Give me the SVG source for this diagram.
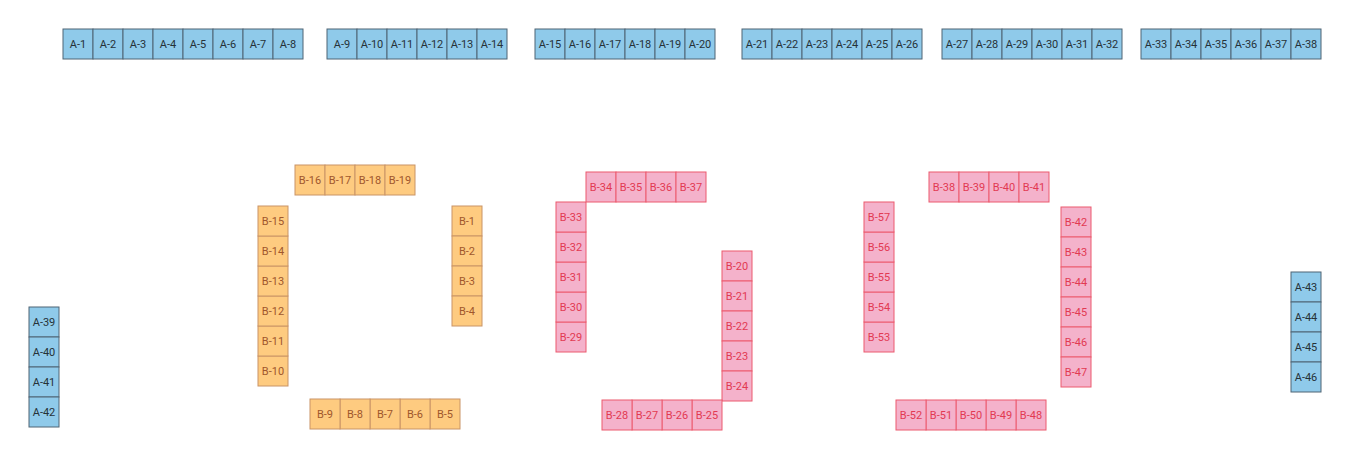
<svg xmlns="http://www.w3.org/2000/svg" width="1350" height="459" viewBox="0 0 1350 459">
<style>
rect{stroke-width:1}
text{font-family:Roboto,"Liberation Sans",sans-serif;font-size:11px;text-anchor:middle;dominant-baseline:central}
.a rect{fill:#8fcaea;stroke:#4f6475}
.a text{fill:#263238}
.o rect{fill:#fecb80;stroke:#c99466}
.o text{fill:#a0572c}
.p rect{fill:#f4b2cb;stroke:#ec5a6e}
.p text{fill:#e23a52}
</style>
<rect width="1350" height="459" fill="#ffffff" stroke="none"/>
<g id="A-1" class="a"><rect x="63" y="29" width="30" height="30"/><text x="78" y="44">A-1</text></g>
<g id="A-2" class="a"><rect x="93" y="29" width="30" height="30"/><text x="108" y="44">A-2</text></g>
<g id="A-3" class="a"><rect x="123" y="29" width="30" height="30"/><text x="138" y="44">A-3</text></g>
<g id="A-4" class="a"><rect x="153" y="29" width="30" height="30"/><text x="168" y="44">A-4</text></g>
<g id="A-5" class="a"><rect x="183" y="29" width="30" height="30"/><text x="198" y="44">A-5</text></g>
<g id="A-6" class="a"><rect x="213" y="29" width="30" height="30"/><text x="228" y="44">A-6</text></g>
<g id="A-7" class="a"><rect x="243" y="29" width="30" height="30"/><text x="258" y="44">A-7</text></g>
<g id="A-8" class="a"><rect x="273" y="29" width="30" height="30"/><text x="288" y="44">A-8</text></g>
<g id="A-9" class="a"><rect x="327" y="29" width="30" height="30"/><text x="342" y="44">A-9</text></g>
<g id="A-10" class="a"><rect x="357" y="29" width="30" height="30"/><text x="372" y="44">A-10</text></g>
<g id="A-11" class="a"><rect x="387" y="29" width="30" height="30"/><text x="402" y="44">A-11</text></g>
<g id="A-12" class="a"><rect x="417" y="29" width="30" height="30"/><text x="432" y="44">A-12</text></g>
<g id="A-13" class="a"><rect x="447" y="29" width="30" height="30"/><text x="462" y="44">A-13</text></g>
<g id="A-14" class="a"><rect x="477" y="29" width="30" height="30"/><text x="492" y="44">A-14</text></g>
<g id="A-15" class="a"><rect x="535" y="29" width="30" height="30"/><text x="550" y="44">A-15</text></g>
<g id="A-16" class="a"><rect x="565" y="29" width="30" height="30"/><text x="580" y="44">A-16</text></g>
<g id="A-17" class="a"><rect x="595" y="29" width="30" height="30"/><text x="610" y="44">A-17</text></g>
<g id="A-18" class="a"><rect x="625" y="29" width="30" height="30"/><text x="640" y="44">A-18</text></g>
<g id="A-19" class="a"><rect x="655" y="29" width="30" height="30"/><text x="670" y="44">A-19</text></g>
<g id="A-20" class="a"><rect x="685" y="29" width="30" height="30"/><text x="700" y="44">A-20</text></g>
<g id="A-21" class="a"><rect x="742" y="29" width="30" height="30"/><text x="757" y="44">A-21</text></g>
<g id="A-22" class="a"><rect x="772" y="29" width="30" height="30"/><text x="787" y="44">A-22</text></g>
<g id="A-23" class="a"><rect x="802" y="29" width="30" height="30"/><text x="817" y="44">A-23</text></g>
<g id="A-24" class="a"><rect x="832" y="29" width="30" height="30"/><text x="847" y="44">A-24</text></g>
<g id="A-25" class="a"><rect x="862" y="29" width="30" height="30"/><text x="877" y="44">A-25</text></g>
<g id="A-26" class="a"><rect x="892" y="29" width="30" height="30"/><text x="907" y="44">A-26</text></g>
<g id="A-27" class="a"><rect x="942" y="29" width="30" height="30"/><text x="957" y="44">A-27</text></g>
<g id="A-28" class="a"><rect x="972" y="29" width="30" height="30"/><text x="987" y="44">A-28</text></g>
<g id="A-29" class="a"><rect x="1002" y="29" width="30" height="30"/><text x="1017" y="44">A-29</text></g>
<g id="A-30" class="a"><rect x="1032" y="29" width="30" height="30"/><text x="1047" y="44">A-30</text></g>
<g id="A-31" class="a"><rect x="1062" y="29" width="30" height="30"/><text x="1077" y="44">A-31</text></g>
<g id="A-32" class="a"><rect x="1092" y="29" width="30" height="30"/><text x="1107" y="44">A-32</text></g>
<g id="A-33" class="a"><rect x="1141" y="29" width="30" height="30"/><text x="1156" y="44">A-33</text></g>
<g id="A-34" class="a"><rect x="1171" y="29" width="30" height="30"/><text x="1186" y="44">A-34</text></g>
<g id="A-35" class="a"><rect x="1201" y="29" width="30" height="30"/><text x="1216" y="44">A-35</text></g>
<g id="A-36" class="a"><rect x="1231" y="29" width="30" height="30"/><text x="1246" y="44">A-36</text></g>
<g id="A-37" class="a"><rect x="1261" y="29" width="30" height="30"/><text x="1276" y="44">A-37</text></g>
<g id="A-38" class="a"><rect x="1291" y="29" width="30" height="30"/><text x="1306" y="44">A-38</text></g>
<g id="A-39" class="a"><rect x="29" y="307" width="30" height="30"/><text x="44" y="322">A-39</text></g>
<g id="A-40" class="a"><rect x="29" y="337" width="30" height="30"/><text x="44" y="352">A-40</text></g>
<g id="A-41" class="a"><rect x="29" y="367" width="30" height="30"/><text x="44" y="382">A-41</text></g>
<g id="A-42" class="a"><rect x="29" y="397" width="30" height="30"/><text x="44" y="412">A-42</text></g>
<g id="A-43" class="a"><rect x="1291" y="272" width="30" height="30"/><text x="1306" y="287">A-43</text></g>
<g id="A-44" class="a"><rect x="1291" y="302" width="30" height="30"/><text x="1306" y="317">A-44</text></g>
<g id="A-45" class="a"><rect x="1291" y="332" width="30" height="30"/><text x="1306" y="347">A-45</text></g>
<g id="A-46" class="a"><rect x="1291" y="362" width="30" height="30"/><text x="1306" y="377">A-46</text></g>
<g id="B-1" class="o"><rect x="452" y="206" width="30" height="30"/><text x="467" y="221">B-1</text></g>
<g id="B-2" class="o"><rect x="452" y="236" width="30" height="30"/><text x="467" y="251">B-2</text></g>
<g id="B-3" class="o"><rect x="452" y="266" width="30" height="30"/><text x="467" y="281">B-3</text></g>
<g id="B-4" class="o"><rect x="452" y="296" width="30" height="30"/><text x="467" y="311">B-4</text></g>
<g id="B-5" class="o"><rect x="430" y="399" width="30" height="30"/><text x="445" y="414">B-5</text></g>
<g id="B-6" class="o"><rect x="400" y="399" width="30" height="30"/><text x="415" y="414">B-6</text></g>
<g id="B-7" class="o"><rect x="370" y="399" width="30" height="30"/><text x="385" y="414">B-7</text></g>
<g id="B-8" class="o"><rect x="340" y="399" width="30" height="30"/><text x="355" y="414">B-8</text></g>
<g id="B-9" class="o"><rect x="310" y="399" width="30" height="30"/><text x="325" y="414">B-9</text></g>
<g id="B-10" class="o"><rect x="258" y="356" width="30" height="30"/><text x="273" y="371">B-10</text></g>
<g id="B-11" class="o"><rect x="258" y="326" width="30" height="30"/><text x="273" y="341">B-11</text></g>
<g id="B-12" class="o"><rect x="258" y="296" width="30" height="30"/><text x="273" y="311">B-12</text></g>
<g id="B-13" class="o"><rect x="258" y="266" width="30" height="30"/><text x="273" y="281">B-13</text></g>
<g id="B-14" class="o"><rect x="258" y="236" width="30" height="30"/><text x="273" y="251">B-14</text></g>
<g id="B-15" class="o"><rect x="258" y="206" width="30" height="30"/><text x="273" y="221">B-15</text></g>
<g id="B-16" class="o"><rect x="295" y="165" width="30" height="30"/><text x="310" y="180">B-16</text></g>
<g id="B-17" class="o"><rect x="325" y="165" width="30" height="30"/><text x="340" y="180">B-17</text></g>
<g id="B-18" class="o"><rect x="355" y="165" width="30" height="30"/><text x="370" y="180">B-18</text></g>
<g id="B-19" class="o"><rect x="385" y="165" width="30" height="30"/><text x="400" y="180">B-19</text></g>
<g id="B-20" class="p"><rect x="722" y="251" width="30" height="30"/><text x="737" y="266">B-20</text></g>
<g id="B-21" class="p"><rect x="722" y="281" width="30" height="30"/><text x="737" y="296">B-21</text></g>
<g id="B-22" class="p"><rect x="722" y="311" width="30" height="30"/><text x="737" y="326">B-22</text></g>
<g id="B-23" class="p"><rect x="722" y="341" width="30" height="30"/><text x="737" y="356">B-23</text></g>
<g id="B-24" class="p"><rect x="722" y="371" width="30" height="30"/><text x="737" y="386">B-24</text></g>
<g id="B-25" class="p"><rect x="692" y="400" width="30" height="30"/><text x="707" y="415">B-25</text></g>
<g id="B-26" class="p"><rect x="662" y="400" width="30" height="30"/><text x="677" y="415">B-26</text></g>
<g id="B-27" class="p"><rect x="632" y="400" width="30" height="30"/><text x="647" y="415">B-27</text></g>
<g id="B-28" class="p"><rect x="602" y="400" width="30" height="30"/><text x="617" y="415">B-28</text></g>
<g id="B-29" class="p"><rect x="556" y="322" width="30" height="30"/><text x="571" y="337">B-29</text></g>
<g id="B-30" class="p"><rect x="556" y="292" width="30" height="30"/><text x="571" y="307">B-30</text></g>
<g id="B-31" class="p"><rect x="556" y="262" width="30" height="30"/><text x="571" y="277">B-31</text></g>
<g id="B-32" class="p"><rect x="556" y="232" width="30" height="30"/><text x="571" y="247">B-32</text></g>
<g id="B-33" class="p"><rect x="556" y="202" width="30" height="30"/><text x="571" y="217">B-33</text></g>
<g id="B-34" class="p"><rect x="586" y="172" width="30" height="30"/><text x="601" y="187">B-34</text></g>
<g id="B-35" class="p"><rect x="616" y="172" width="30" height="30"/><text x="631" y="187">B-35</text></g>
<g id="B-36" class="p"><rect x="646" y="172" width="30" height="30"/><text x="661" y="187">B-36</text></g>
<g id="B-37" class="p"><rect x="676" y="172" width="30" height="30"/><text x="691" y="187">B-37</text></g>
<g id="B-38" class="p"><rect x="929" y="172" width="30" height="30"/><text x="944" y="187">B-38</text></g>
<g id="B-39" class="p"><rect x="959" y="172" width="30" height="30"/><text x="974" y="187">B-39</text></g>
<g id="B-40" class="p"><rect x="989" y="172" width="30" height="30"/><text x="1004" y="187">B-40</text></g>
<g id="B-41" class="p"><rect x="1019" y="172" width="30" height="30"/><text x="1034" y="187">B-41</text></g>
<g id="B-42" class="p"><rect x="1061" y="207" width="30" height="30"/><text x="1076" y="222">B-42</text></g>
<g id="B-43" class="p"><rect x="1061" y="237" width="30" height="30"/><text x="1076" y="252">B-43</text></g>
<g id="B-44" class="p"><rect x="1061" y="267" width="30" height="30"/><text x="1076" y="282">B-44</text></g>
<g id="B-45" class="p"><rect x="1061" y="297" width="30" height="30"/><text x="1076" y="312">B-45</text></g>
<g id="B-46" class="p"><rect x="1061" y="327" width="30" height="30"/><text x="1076" y="342">B-46</text></g>
<g id="B-47" class="p"><rect x="1061" y="357" width="30" height="30"/><text x="1076" y="372">B-47</text></g>
<g id="B-48" class="p"><rect x="1016" y="400" width="30" height="30"/><text x="1031" y="415">B-48</text></g>
<g id="B-49" class="p"><rect x="986" y="400" width="30" height="30"/><text x="1001" y="415">B-49</text></g>
<g id="B-50" class="p"><rect x="956" y="400" width="30" height="30"/><text x="971" y="415">B-50</text></g>
<g id="B-51" class="p"><rect x="926" y="400" width="30" height="30"/><text x="941" y="415">B-51</text></g>
<g id="B-52" class="p"><rect x="896" y="400" width="30" height="30"/><text x="911" y="415">B-52</text></g>
<g id="B-53" class="p"><rect x="864" y="322" width="30" height="30"/><text x="879" y="337">B-53</text></g>
<g id="B-54" class="p"><rect x="864" y="292" width="30" height="30"/><text x="879" y="307">B-54</text></g>
<g id="B-55" class="p"><rect x="864" y="262" width="30" height="30"/><text x="879" y="277">B-55</text></g>
<g id="B-56" class="p"><rect x="864" y="232" width="30" height="30"/><text x="879" y="247">B-56</text></g>
<g id="B-57" class="p"><rect x="864" y="202" width="30" height="30"/><text x="879" y="217">B-57</text></g>
<g id="connectors"/>
</svg>
